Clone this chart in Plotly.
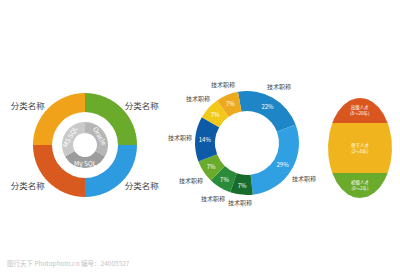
import numpy as np
import plotly.graph_objects as go

W, H = 400, 274

# Left donut
cat_labels = ["分类名称", "分类名称", "分类名称", "分类名称"]
cat_values = [25, 25, 25, 25]
cat_colors = ["#6aab2c", "#2e9be0", "#d95a1e", "#f0a31a"]

db_labels = ["Oracle", "My SQL", "MS SQL"]
db_values = [1, 1, 1]
db_colors = ["#b6b6b6", "#9c9c9c", "#c9c9c9"]

# Middle donut
tech_labels = ["技术职称"] * 8
tech_values = [22, 29, 7, 7, 7, 14, 7, 7]
tech_colors = ["#1e86c6", "#31a0e2", "#176b2b", "#2a8c3a", "#6aab2c",
               "#0d5aa6", "#f2c91a", "#eeaa1e"]

# Right ellipse (bottom to top)
tal_names = ["初级人才", "骨干人才", "高级人才"]
tal_years = ["(0～2年)", "(2～8年)", "(8～20年)"]
tal_shares = [25, 50, 25]
tal_colors = ["#6aab2c", "#f0b41e", "#d9561e"]

FONT = "Noto Sans CJK SC"


def dom(cx, cy, r):
    return dict(x=[(cx - r) / W, (cx + r) / W],
                y=[(H - cy - r) / H, (H - cy + r) / H])


def mid_angles(values, rotation):
    tot = float(sum(values))
    cum = np.concatenate([[0], np.cumsum(values)]) / tot * 360
    return rotation + (cum[:-1] + cum[1:]) / 2


def paper(px, py):
    return px / W, (H - py) / H


fig = go.Figure()

# ---- left outer ring
LCX, LCY, LR = 85, 145, 52
fig.add_trace(go.Pie(
    labels=[f"c{i}" for i in range(4)], values=cat_values, text=cat_labels,
    marker=dict(colors=cat_colors, line=dict(width=0)),
    hole=33 / 52, sort=False, direction="clockwise", rotation=0,
    textinfo="text", textposition="outside",
    textfont=dict(family=FONT, size=8.5, color="#444444"),
    domain=dom(LCX, LCY, LR), showlegend=False))

# ---- left inner grey ring
IR_OUT, IR_IN = 23, 12
fig.add_trace(go.Pie(
    labels=db_labels, values=db_values,
    marker=dict(colors=db_colors, line=dict(width=0)),
    hole=IR_IN / IR_OUT, sort=False, direction="clockwise", rotation=0,
    textinfo="none",
    domain=dom(LCX, LCY, IR_OUT), showlegend=False))
for lab, ang in zip(db_labels, mid_angles(db_values, 0)):
    r = (IR_OUT + IR_IN) / 2
    t = np.deg2rad(ang)
    px, py = LCX + r * np.sin(t), LCY - r * np.cos(t)
    a = ang % 360
    ta = a - 180 if 90 < a < 270 else (a if a <= 90 else a - 360)
    x, y = paper(px, py)
    fig.add_annotation(x=x, y=y, xref="paper", yref="paper", text=lab,
                       xanchor="center", yanchor="middle",
                       showarrow=False, textangle=ta,
                       font=dict(family=FONT, size=6.5, color="#ffffff"))

# ---- middle ring: percentages inside
MCX, MCY, MR = 247, 143, 52
ROT = -10
fig.add_trace(go.Pie(
    labels=[f"t{i}" for i in range(8)], values=tech_values,
    marker=dict(colors=tech_colors, line=dict(width=0)),
    hole=32 / 52, sort=False, direction="clockwise", rotation=ROT,
    texttemplate="%{value}%", textposition="inside",
    insidetextorientation="horizontal",
    textfont=dict(family=FONT, size=6, color="#ffffff"),
    domain=dom(MCX, MCY, MR), showlegend=False))

# middle ring: outside labels
for lab, ang in zip(tech_labels, mid_angles(tech_values, ROT)):
    t = np.deg2rad(ang)
    r = MR + 3 + 12 * abs(np.sin(t)) + 4 * abs(np.cos(t))
    px, py = MCX + r * np.sin(t), MCY - r * np.cos(t)
    x, y = paper(px, py)
    fig.add_annotation(x=x, y=y, xref="paper", yref="paper", text=lab,
                       xanchor="center", yanchor="middle",
                       showarrow=False,
                       font=dict(family=FONT, size=6, color="#444444"))

# ---- right ellipse bands
bounds = np.concatenate([[0], np.cumsum(tal_shares)]) / sum(tal_shares) * 2 - 1
for i in range(len(tal_shares)):
    y0, y1 = bounds[i], bounds[i + 1]
    ys = np.linspace(y0, y1, 60)
    xs = np.sqrt(np.clip(1 - ys ** 2, 0, None))
    px = np.concatenate([xs, -xs[::-1]])
    py = np.concatenate([ys, ys[::-1]])
    fig.add_trace(go.Scatter(x=px, y=py, fill="toself", mode="lines",
                             line=dict(width=0, color=tal_colors[i]),
                             fillcolor=tal_colors[i], showlegend=False,
                             hoverinfo="skip"))
    ym = (y0 + y1) / 2
    fig.add_annotation(x=0, y=ym, xref="x", yref="y",
                       xanchor="center", yanchor="middle",
                       text=f"{tal_names[i]}<br>{tal_years[i]}",
                       showarrow=False,
                       font=dict(family=FONT, size=4.5, color="#ffffff"))

fig.add_annotation(x=5 / W, y=(H - 263) / H, xref="paper", yref="paper",
                   xanchor="left", yanchor="middle", showarrow=False,
                   text="图行天下 Photophoto.cn 编号：24005527",
                   font=dict(family=FONT, size=6.5, color="#c4c4c4"))

fig.update_layout(
    width=W, height=H, margin=dict(l=0, r=0, t=0, b=0),
    paper_bgcolor="white", plot_bgcolor="rgba(0,0,0,0)",
    xaxis=dict(domain=[328 / W, 392 / W], range=[-1, 1], visible=False,
               fixedrange=True),
    yaxis=dict(domain=[(H - 198) / H, (H - 98) / H], range=[-1, 1],
               visible=False, fixedrange=True),
)

fig.write_html("out.html")
